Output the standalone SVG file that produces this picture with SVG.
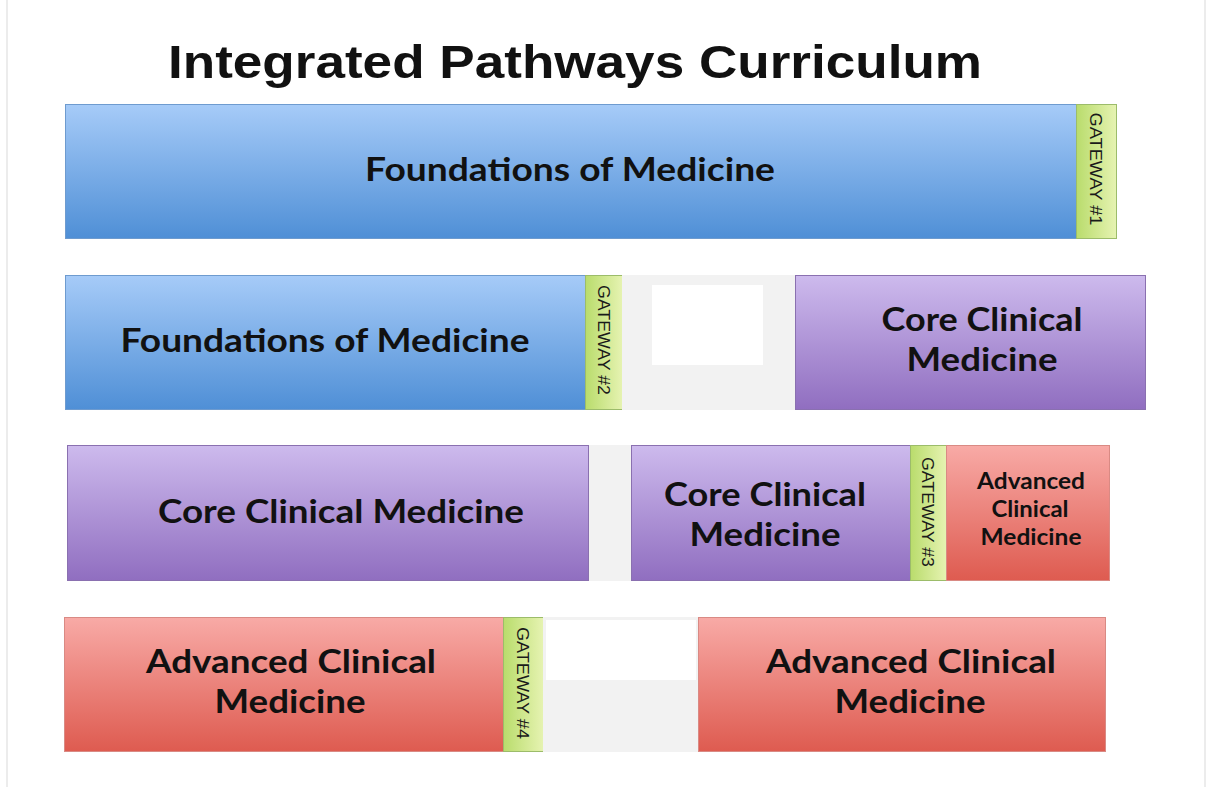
<svg xmlns="http://www.w3.org/2000/svg" width="1208" height="787" viewBox="0 0 1208 787">
<defs>
<linearGradient id="gBlue" x1="0" y1="0" x2="0" y2="1"><stop offset="0" stop-color="#a6cbf8"/><stop offset="1" stop-color="#4f8fd6"/></linearGradient>
<linearGradient id="gPurple" x1="0" y1="0" x2="0" y2="1"><stop offset="0" stop-color="#cdbaed"/><stop offset="1" stop-color="#906ec0"/></linearGradient>
<linearGradient id="gRed" x1="0" y1="0" x2="0" y2="1"><stop offset="0" stop-color="#f8aaa6"/><stop offset="1" stop-color="#de5b50"/></linearGradient>
<linearGradient id="gGreen" x1="0" y1="0" x2="1" y2="0"><stop offset="0" stop-color="#b9dc6c"/><stop offset="1" stop-color="#e6f3b2"/></linearGradient>
</defs>
<style>
.blue{fill:url(#gBlue);stroke:#6e9bcf;stroke-width:1}
.purple{fill:url(#gPurple);stroke:#8a70b0;stroke-width:1}
.red{fill:url(#gRed);stroke:#d98a84;stroke-width:1}
.gate{fill:url(#gGreen);stroke:#9cbc6a;stroke-width:1}
.gap{fill:#f2f2f2}
.lbl{font-family:Lato,"Open Sans","Liberation Sans",sans-serif;font-weight:bold;fill:#111;text-anchor:middle}
.gt{font-family:"Liberation Sans",Arial,sans-serif;font-size:17px;fill:#1a1a1a;text-anchor:middle}
</style>
<rect width="1208" height="787" fill="#ffffff"/>
<line x1="7" y1="0" x2="7" y2="787" stroke="#ececec" stroke-width="2"/>
<line x1="1205" y1="0" x2="1205" y2="787" stroke="#ececec" stroke-width="2"/>
<text x="575" y="78" font-family="Liberation Sans,Arial,sans-serif" font-weight="bold" font-size="46" fill="#111" text-anchor="middle" textLength="814" lengthAdjust="spacingAndGlyphs">Integrated Pathways Curriculum</text>

<g id="row1">
<g id="fom1"><rect class="blue" x="65.5" y="104.5" width="1011" height="134"/><text class="lbl" x="570" y="181" font-size="33" textLength="410" lengthAdjust="spacingAndGlyphs">Foundations of Medicine</text></g>
<g id="gw1"><rect class="gate" x="1076.5" y="104.5" width="40" height="134"/><text class="gt" transform="translate(1090 169) rotate(90)" textLength="113" lengthAdjust="spacingAndGlyphs">GATEWAY #1</text></g>
</g>

<g id="row2">
<g id="fom2"><rect class="blue" x="65.5" y="275.5" width="520" height="134"/><text class="lbl" x="325" y="352" font-size="33" textLength="409" lengthAdjust="spacingAndGlyphs">Foundations of Medicine</text></g>
<g id="gw2"><rect class="gate" x="585.5" y="275.5" width="37" height="134"/><text class="gt" transform="translate(598 340) rotate(90)" textLength="110" lengthAdjust="spacingAndGlyphs">GATEWAY #2</text></g>
<g id="gap2"><rect class="gap" x="622" y="275" width="173" height="135"/><rect x="652" y="285" width="111" height="80" fill="#ffffff"/></g>
<g id="ccm2"><rect class="purple" x="795.5" y="275.5" width="350" height="134"/><text class="lbl" x="982" y="331" font-size="33" textLength="201" lengthAdjust="spacingAndGlyphs">Core Clinical</text><text class="lbl" x="982" y="371" font-size="33" textLength="151" lengthAdjust="spacingAndGlyphs">Medicine</text></g>
</g>

<g id="row3">
<g id="ccm3a"><rect class="purple" x="67.5" y="445.5" width="521" height="135"/><text class="lbl" x="341" y="523" font-size="33" textLength="366" lengthAdjust="spacingAndGlyphs">Core Clinical Medicine</text></g>
<g id="gap3"><rect class="gap" x="589" y="445" width="42" height="136"/></g>
<g id="ccm3b"><rect class="purple" x="631.5" y="445.5" width="279" height="135"/><text class="lbl" x="765" y="506" font-size="33" textLength="202" lengthAdjust="spacingAndGlyphs">Core Clinical</text><text class="lbl" x="765" y="546" font-size="33" textLength="151" lengthAdjust="spacingAndGlyphs">Medicine</text></g>
<g id="gw3"><rect class="gate" x="910.5" y="445.5" width="36" height="135"/><text class="gt" transform="translate(922 512) rotate(90)" textLength="110" lengthAdjust="spacingAndGlyphs">GATEWAY #3</text></g>
<g id="acm3"><rect class="red" x="946.5" y="445.5" width="163" height="135"/><text class="lbl" x="1031" y="489" font-size="22" textLength="108" lengthAdjust="spacingAndGlyphs">Advanced</text><text class="lbl" x="1030" y="517" font-size="22" textLength="77" lengthAdjust="spacingAndGlyphs">Clinical</text><text class="lbl" x="1031" y="545" font-size="22" textLength="101" lengthAdjust="spacingAndGlyphs">Medicine</text></g>
</g>

<g id="row4">
<g id="acm4a"><rect class="red" x="64.5" y="617.5" width="439" height="134"/><text class="lbl" x="291" y="673" font-size="33" textLength="290" lengthAdjust="spacingAndGlyphs">Advanced Clinical</text><text class="lbl" x="290" y="713" font-size="33" textLength="151" lengthAdjust="spacingAndGlyphs">Medicine</text></g>
<g id="gw4"><rect class="gate" x="503.5" y="617.5" width="40" height="134"/><text class="gt" transform="translate(517 683) rotate(90)" textLength="112" lengthAdjust="spacingAndGlyphs">GATEWAY #4</text></g>
<g id="gap4"><rect class="gap" x="543" y="617" width="155" height="135"/><rect x="546" y="620" width="150" height="60" fill="#ffffff"/></g>
<g id="acm4b"><rect class="red" x="698.5" y="617.5" width="407" height="134"/><text class="lbl" x="911" y="673" font-size="33" textLength="290" lengthAdjust="spacingAndGlyphs">Advanced Clinical</text><text class="lbl" x="910" y="713" font-size="33" textLength="151" lengthAdjust="spacingAndGlyphs">Medicine</text></g>
</g>
<g id="connectors"/>
</svg>
